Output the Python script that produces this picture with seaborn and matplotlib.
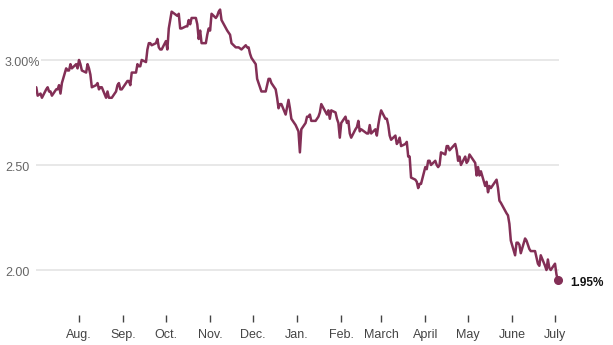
import matplotlib
matplotlib.use("Agg")
import matplotlib.pyplot as plt
import matplotlib.dates as mdates
import matplotlib.transforms as mtransforms
import pandas as pd
import seaborn as sns

# Daily 10-year yield, percent
dates = [
    "2018-07-02", "2018-07-03", "2018-07-05", "2018-07-06", "2018-07-09", "2018-07-10",
    "2018-07-11", "2018-07-12", "2018-07-13", "2018-07-16", "2018-07-17", "2018-07-18",
    "2018-07-19", "2018-07-20", "2018-07-23", "2018-07-24", "2018-07-25", "2018-07-26",
    "2018-07-27", "2018-07-30", "2018-07-31",
    "2018-08-01", "2018-08-02", "2018-08-03", "2018-08-06", "2018-08-07", "2018-08-08",
    "2018-08-09", "2018-08-10", "2018-08-13", "2018-08-14", "2018-08-15", "2018-08-16",
    "2018-08-17", "2018-08-20", "2018-08-21", "2018-08-22", "2018-08-23", "2018-08-24",
    "2018-08-27", "2018-08-28", "2018-08-29", "2018-08-30", "2018-08-31",
    "2018-09-04", "2018-09-05", "2018-09-06", "2018-09-07", "2018-09-10", "2018-09-11",
    "2018-09-12", "2018-09-13", "2018-09-14", "2018-09-17", "2018-09-18", "2018-09-19",
    "2018-09-20", "2018-09-21", "2018-09-24", "2018-09-25", "2018-09-26", "2018-09-27",
    "2018-09-28",
    "2018-10-01", "2018-10-02", "2018-10-03", "2018-10-04", "2018-10-05", "2018-10-09",
    "2018-10-10", "2018-10-11", "2018-10-12", "2018-10-15", "2018-10-16", "2018-10-17",
    "2018-10-18", "2018-10-19", "2018-10-22", "2018-10-23", "2018-10-24", "2018-10-25",
    "2018-10-26", "2018-10-29", "2018-10-30", "2018-10-31",
    "2018-11-01", "2018-11-02", "2018-11-05", "2018-11-06", "2018-11-07", "2018-11-08",
    "2018-11-09", "2018-11-13", "2018-11-14", "2018-11-15", "2018-11-16", "2018-11-19",
    "2018-11-20", "2018-11-21", "2018-11-23", "2018-11-26", "2018-11-27", "2018-11-28",
    "2018-11-29", "2018-11-30",
    "2018-12-03", "2018-12-04", "2018-12-06", "2018-12-07", "2018-12-10", "2018-12-11",
    "2018-12-12", "2018-12-13", "2018-12-14", "2018-12-17", "2018-12-18", "2018-12-19",
    "2018-12-20", "2018-12-21", "2018-12-24", "2018-12-26", "2018-12-27", "2018-12-28",
    "2018-12-31",
    "2019-01-02", "2019-01-03", "2019-01-04", "2019-01-07", "2019-01-08", "2019-01-09",
    "2019-01-10", "2019-01-11", "2019-01-14", "2019-01-15", "2019-01-16", "2019-01-17",
    "2019-01-18", "2019-01-22", "2019-01-23", "2019-01-24", "2019-01-25", "2019-01-28",
    "2019-01-29", "2019-01-30", "2019-01-31",
    "2019-02-01", "2019-02-04", "2019-02-05", "2019-02-06", "2019-02-07", "2019-02-08",
    "2019-02-11", "2019-02-12", "2019-02-13", "2019-02-14", "2019-02-15", "2019-02-19",
    "2019-02-20", "2019-02-21", "2019-02-22", "2019-02-25", "2019-02-26", "2019-02-27",
    "2019-02-28",
    "2019-03-01", "2019-03-04", "2019-03-05", "2019-03-06", "2019-03-07", "2019-03-08",
    "2019-03-11", "2019-03-12", "2019-03-13", "2019-03-14", "2019-03-15", "2019-03-18",
    "2019-03-19", "2019-03-20", "2019-03-21", "2019-03-22", "2019-03-25", "2019-03-26",
    "2019-03-27", "2019-03-28", "2019-03-29",
    "2019-04-01", "2019-04-02", "2019-04-03", "2019-04-04", "2019-04-05", "2019-04-08",
    "2019-04-09", "2019-04-10", "2019-04-11", "2019-04-12", "2019-04-15", "2019-04-16",
    "2019-04-17", "2019-04-18", "2019-04-22", "2019-04-23", "2019-04-24", "2019-04-25",
    "2019-04-26", "2019-04-29", "2019-04-30",
    "2019-05-01", "2019-05-02", "2019-05-03", "2019-05-06", "2019-05-07", "2019-05-08",
    "2019-05-09", "2019-05-10", "2019-05-13", "2019-05-14", "2019-05-15", "2019-05-16",
    "2019-05-17", "2019-05-20", "2019-05-21", "2019-05-22", "2019-05-23", "2019-05-24",
    "2019-05-28", "2019-05-29", "2019-05-30", "2019-05-31",
    "2019-06-03", "2019-06-04", "2019-06-05", "2019-06-06", "2019-06-07", "2019-06-10",
    "2019-06-11", "2019-06-12", "2019-06-13", "2019-06-14", "2019-06-17", "2019-06-18",
    "2019-06-19", "2019-06-20", "2019-06-21", "2019-06-24", "2019-06-25", "2019-06-26",
    "2019-06-27", "2019-06-28",
    "2019-07-01", "2019-07-02", "2019-07-03",
]

yields = [
    2.87, 2.83, 2.84, 2.82, 2.86, 2.87, 2.85, 2.85, 2.83, 2.86, 2.86, 2.88,
    2.84, 2.89, 2.96, 2.95, 2.95, 2.98, 2.96, 2.98, 2.96,
    3.00, 2.98, 2.95, 2.94, 2.98, 2.96, 2.93, 2.87, 2.88, 2.89, 2.86, 2.87,
    2.87, 2.82, 2.85, 2.82, 2.82, 2.82, 2.85, 2.88, 2.89, 2.86, 2.86,
    2.90, 2.90, 2.88, 2.94, 2.94, 2.98, 2.97, 2.97, 3.00, 2.99, 3.05, 3.08,
    3.08, 3.07, 3.08, 3.10, 3.06, 3.05, 3.05,
    3.09, 3.05, 3.15, 3.19, 3.23, 3.21, 3.22, 3.15, 3.15, 3.16, 3.16, 3.19,
    3.17, 3.20, 3.20, 3.17, 3.10, 3.14, 3.08, 3.08, 3.12, 3.15,
    3.14, 3.22, 3.20, 3.21, 3.23, 3.24, 3.19, 3.14, 3.13, 3.12, 3.08, 3.06,
    3.06, 3.06, 3.05, 3.07, 3.06, 3.06, 3.03, 3.01,
    2.98, 2.91, 2.87, 2.85, 2.85, 2.88, 2.91, 2.91, 2.89, 2.86, 2.82, 2.77,
    2.79, 2.79, 2.74, 2.81, 2.77, 2.72, 2.69,
    2.66, 2.56, 2.67, 2.70, 2.73, 2.73, 2.74, 2.71, 2.71, 2.72, 2.73, 2.75,
    2.79, 2.74, 2.76, 2.72, 2.76, 2.75, 2.72, 2.70, 2.63,
    2.70, 2.73, 2.70, 2.71, 2.65, 2.63, 2.67, 2.68, 2.71, 2.66, 2.67, 2.65,
    2.65, 2.69, 2.65, 2.67, 2.64, 2.69, 2.73,
    2.76, 2.72, 2.72, 2.69, 2.64, 2.62, 2.64, 2.60, 2.61, 2.63, 2.59, 2.60,
    2.61, 2.54, 2.54, 2.44, 2.43, 2.42, 2.39, 2.41, 2.41,
    2.49, 2.48, 2.52, 2.52, 2.50, 2.52, 2.50, 2.49, 2.50, 2.56, 2.55, 2.59,
    2.59, 2.57, 2.60, 2.57, 2.52, 2.54, 2.50, 2.54, 2.51,
    2.52, 2.55, 2.54, 2.51, 2.45, 2.49, 2.45, 2.47, 2.40, 2.42, 2.37, 2.40,
    2.39, 2.42, 2.43, 2.39, 2.33, 2.32, 2.27, 2.26, 2.22, 2.14,
    2.07, 2.13, 2.13, 2.12, 2.08, 2.15, 2.14, 2.12, 2.10, 2.09, 2.09, 2.06,
    2.03, 2.02, 2.07, 2.02, 2.00, 2.05, 2.01, 2.00,
    2.03, 1.98, 1.95,
]

month_ticks = ["2018-08-01", "2018-09-01", "2018-10-01", "2018-11-01", "2018-12-01",
               "2019-01-01", "2019-02-01", "2019-03-01", "2019-04-01", "2019-05-01",
               "2019-06-01", "2019-07-01"]
month_labels = ["Aug.", "Sep.", "Oct.", "Nov.", "Dec.", "Jan.", "Feb.", "March",
                "April", "May", "June", "July"]

grid_values = [3.00, 2.50, 2.00]
grid_labels = ["3.00%", "2.50", "2.00"]

LINE_COLOR = "#832f56"

sns.set_theme(style="white")
plt.rcParams["font.family"] = ["Liberation Sans", "DejaVu Sans"]

df = pd.DataFrame({"date": pd.to_datetime(dates), "yield": yields})

W, H = 613, 345
fig = plt.figure(figsize=(W / 100, H / 100), dpi=100)
ax = fig.add_axes([36 / W, 30 / H, 523 / W, 313 / H])

for v in grid_values:
    ax.axhline(v, color="#e6e6e6", lw=1.3, zorder=1)

sns.lineplot(data=df, x="date", y="yield", ax=ax, color=LINE_COLOR,
             lw=1.8, zorder=3)

last_date = df["date"].iloc[-1]
last_val = df["yield"].iloc[-1]
ax.plot([last_date], [last_val], "o", color=LINE_COLOR, ms=5.5, zorder=4,
        clip_on=False)
ax.annotate(f"{last_val:.2f}%", xy=(last_date, last_val), xytext=(9, -2),
            textcoords="offset points", ha="left", va="center",
            fontsize=8.5, fontweight="bold", color="#111111")

px_per_day = 476 / 334
x0 = mdates.date2num(pd.Timestamp("2018-08-01")) - 43 / px_per_day
x1 = mdates.date2num(pd.Timestamp("2019-07-01")) + 4 / px_per_day
ax.set_xlim(x0, x1)
ax.set_ylim(1.7857, 3.276)

ax.set_xticks(pd.to_datetime(month_ticks))
ax.set_xticklabels(month_labels)
ax.tick_params(axis="x", direction="out", length=5, width=1, color="#444444",
               pad=5, labelsize=9, labelcolor="#444444", bottom=True)
ax.set_yticks([])
ax.set_xlabel("")
ax.set_ylabel("")
for s in ax.spines.values():
    s.set_visible(False)

# Value labels sit at the left edge, just below each gridline's centre
label_shift = mtransforms.ScaledTranslation(0, -2 / 72, fig.dpi_scale_trans)
trans = mtransforms.blended_transform_factory(fig.transFigure, ax.transData) + label_shift
for v, lab in zip(grid_values, grid_labels):
    ax.text(5 / W, v, lab, transform=trans, ha="left", va="center",
            fontsize=9, color="#666666", zorder=5,
            bbox=dict(facecolor="white", edgecolor="none", pad=0.5))

fig.savefig("out.png", dpi=100)
